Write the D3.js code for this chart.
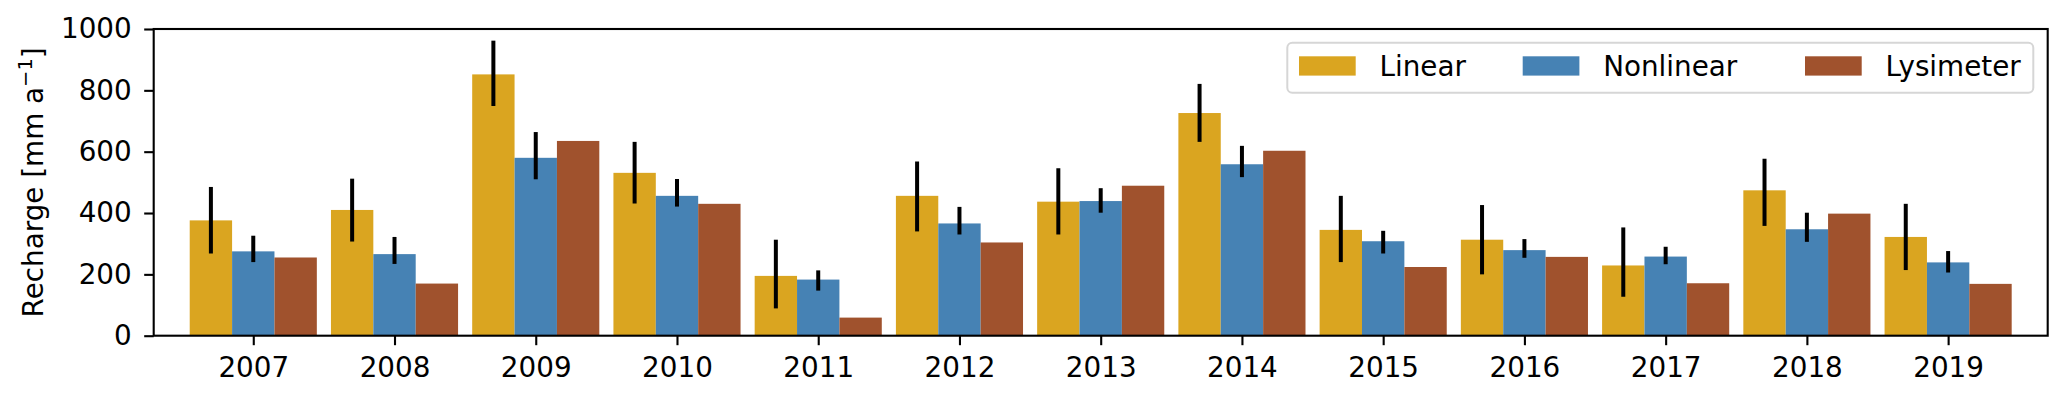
<!DOCTYPE html>
<html>
<head>
<meta charset="utf-8">
<script src="https://cdn.jsdelivr.net/npm/d3@7"></script>
<style>
  body { margin: 0; background: #fff; }
  text { font-family: "DejaVu Sans", sans-serif; }
</style>
</head>
<body>
<script>
var W = 2067, H = 395;
var margin = {top: 29, right: 19.3, bottom: 59.3, left: 153.7}
  , width = W - margin.left - margin.right
  , height = H - margin.top - margin.bottom;
var fontSize = "27.8px";

// data
var years = [2007, 2008, 2009, 2010, 2011, 2012, 2013, 2014, 2015, 2016, 2017, 2018, 2019];
var linear    = [376, 410, 852, 531, 195, 456, 437, 726, 345, 313, 229, 474, 322];
var linearLo  = [268, 307, 749, 431,  89, 340, 330, 632, 240, 200, 127, 358, 214];
var linearHi  = [485, 512, 962, 632, 313, 568, 546, 821, 456, 426, 353, 577, 430];
var nonlinear   = [275, 266, 580, 456, 183, 366, 439, 559, 308, 279, 258, 347, 239];
var nonlinearLo = [240, 234, 510, 421, 147, 330, 401, 517, 268, 254, 233, 306, 206];
var nonlinearHi = [326, 322, 664, 511, 213, 420, 481, 619, 342, 315, 290, 401, 276];
var lysimeter = [255, 170, 635, 430, 59, 304, 489, 603, 224, 257, 171, 398, 169];
var yTicks = [0, 200, 400, 600, 800, 1000];
var seriesNames = ["Linear", "Nonlinear", "Lysimeter"];
var colors = {"Linear": "#DAA520", "Nonlinear": "#4682B4", "Lysimeter": "#A0522D"};

var barWidth = 0.3;

var svg = d3.select("body").append("svg")
    .attr("width", W)
    .attr("height", H);

var g = svg.append("g")
    .attr("transform", "translate(" + margin.left + "," + margin.top + ")");

var xScale = d3.scaleLinear()
    .domain([2007 - 0.705, 2019 + 0.705])
    .range([0, width]);

var yScale = d3.scaleLinear()
    .domain([0, 1000])
    .range([height, 0]);

var series = [
    {name: "Linear", values: linear, lo: linearLo, hi: linearHi, offset: -1},
    {name: "Nonlinear", values: nonlinear, lo: nonlinearLo, hi: nonlinearHi, offset: 0},
    {name: "Lysimeter", values: lysimeter, lo: null, hi: null, offset: 1}
];

// bars
series.forEach(function (s) {
    g.append("g").selectAll("rect")
        .data(years)
        .enter().append("rect")
        .attr("x", function (d) { return xScale(d + s.offset * barWidth - barWidth / 2); })
        .attr("width", function (d) { return xScale(d + barWidth) - xScale(d); })
        .attr("y", function (d, i) { return yScale(s.values[i]); })
        .attr("height", function (d, i) { return yScale(0) - yScale(s.values[i]); })
        .style("fill", colors[s.name]);
});

// error bars
series.forEach(function (s) {
    if (!s.lo) return;
    g.append("g").selectAll("line")
        .data(years)
        .enter().append("line")
        .attr("x1", function (d) { return xScale(d + s.offset * barWidth); })
        .attr("x2", function (d) { return xScale(d + s.offset * barWidth); })
        .attr("y1", function (d, i) { return yScale(s.lo[i]); })
        .attr("y2", function (d, i) { return yScale(s.hi[i]); })
        .style("stroke", "#000")
        .style("stroke-width", 4);
});

// axes
var xAxis = g.append("g")
    .attr("transform", "translate(0," + height + ")")
    .call(d3.axisBottom(xScale).tickValues(years).tickFormat(d3.format("d")).tickSize(9.5).tickSizeOuter(0));
xAxis.select(".domain").remove();
xAxis.selectAll("line").style("stroke", "#000").style("stroke-width", 2.1);
xAxis.selectAll("text")
    .attr("dy", null)
    .attr("y", 41)
    .style("font-size", fontSize)
    .style("font-family", "DejaVu Sans")
    .style("fill", "#000");

var yAxis = g.append("g")
    .call(d3.axisLeft(yScale).tickValues(yTicks).tickFormat(d3.format("d")).tickSize(9.5).tickPadding(12.5).tickSizeOuter(0));
yAxis.select(".domain").remove();
yAxis.selectAll("line").style("stroke", "#000").style("stroke-width", 2.1);
yAxis.selectAll("text")
    .style("font-size", fontSize)
    .style("font-family", "DejaVu Sans")
    .style("fill", "#000");

// frame
g.append("rect")
    .attr("x", 0).attr("y", 0)
    .attr("width", width).attr("height", height)
    .style("fill", "none")
    .style("stroke", "#000")
    .style("stroke-width", 2.1);

// y label
var ylab = svg.append("text")
    .attr("text-anchor", "middle")
    .attr("transform", "translate(42.5," + (margin.top + height / 2) + ")rotate(-90)")
    .style("font-size", fontSize)
    .style("fill", "#000");
ylab.append("tspan").text("Recharge [mm a");
ylab.append("tspan").text("\u22121").style("font-size", "19.5px").attr("dy", "-11");
ylab.append("tspan").text("]").attr("dy", "11");

// legend
var legend = svg.append("g").attr("class", "legend");
legend.append("rect")
    .attr("x", 1287.3).attr("y", 42.7)
    .attr("width", 746).attr("height", 50)
    .attr("rx", 5).attr("ry", 5)
    .style("fill", "#fff")
    .style("stroke", "#d6d6d6")
    .style("stroke-width", 2);
var legendX = [1299, 1522.7, 1805];
seriesNames.forEach(function (name, i) {
    legend.append("rect")
        .attr("x", legendX[i]).attr("y", 56.3)
        .attr("width", 56.7).attr("height", 19.3)
        .style("fill", colors[name]);
    legend.append("text")
        .attr("x", legendX[i] + 80.5).attr("y", 75.5)
        .style("font-size", fontSize)
        .style("fill", "#000")
        .text(name);
});
</script>
</body>
</html>
